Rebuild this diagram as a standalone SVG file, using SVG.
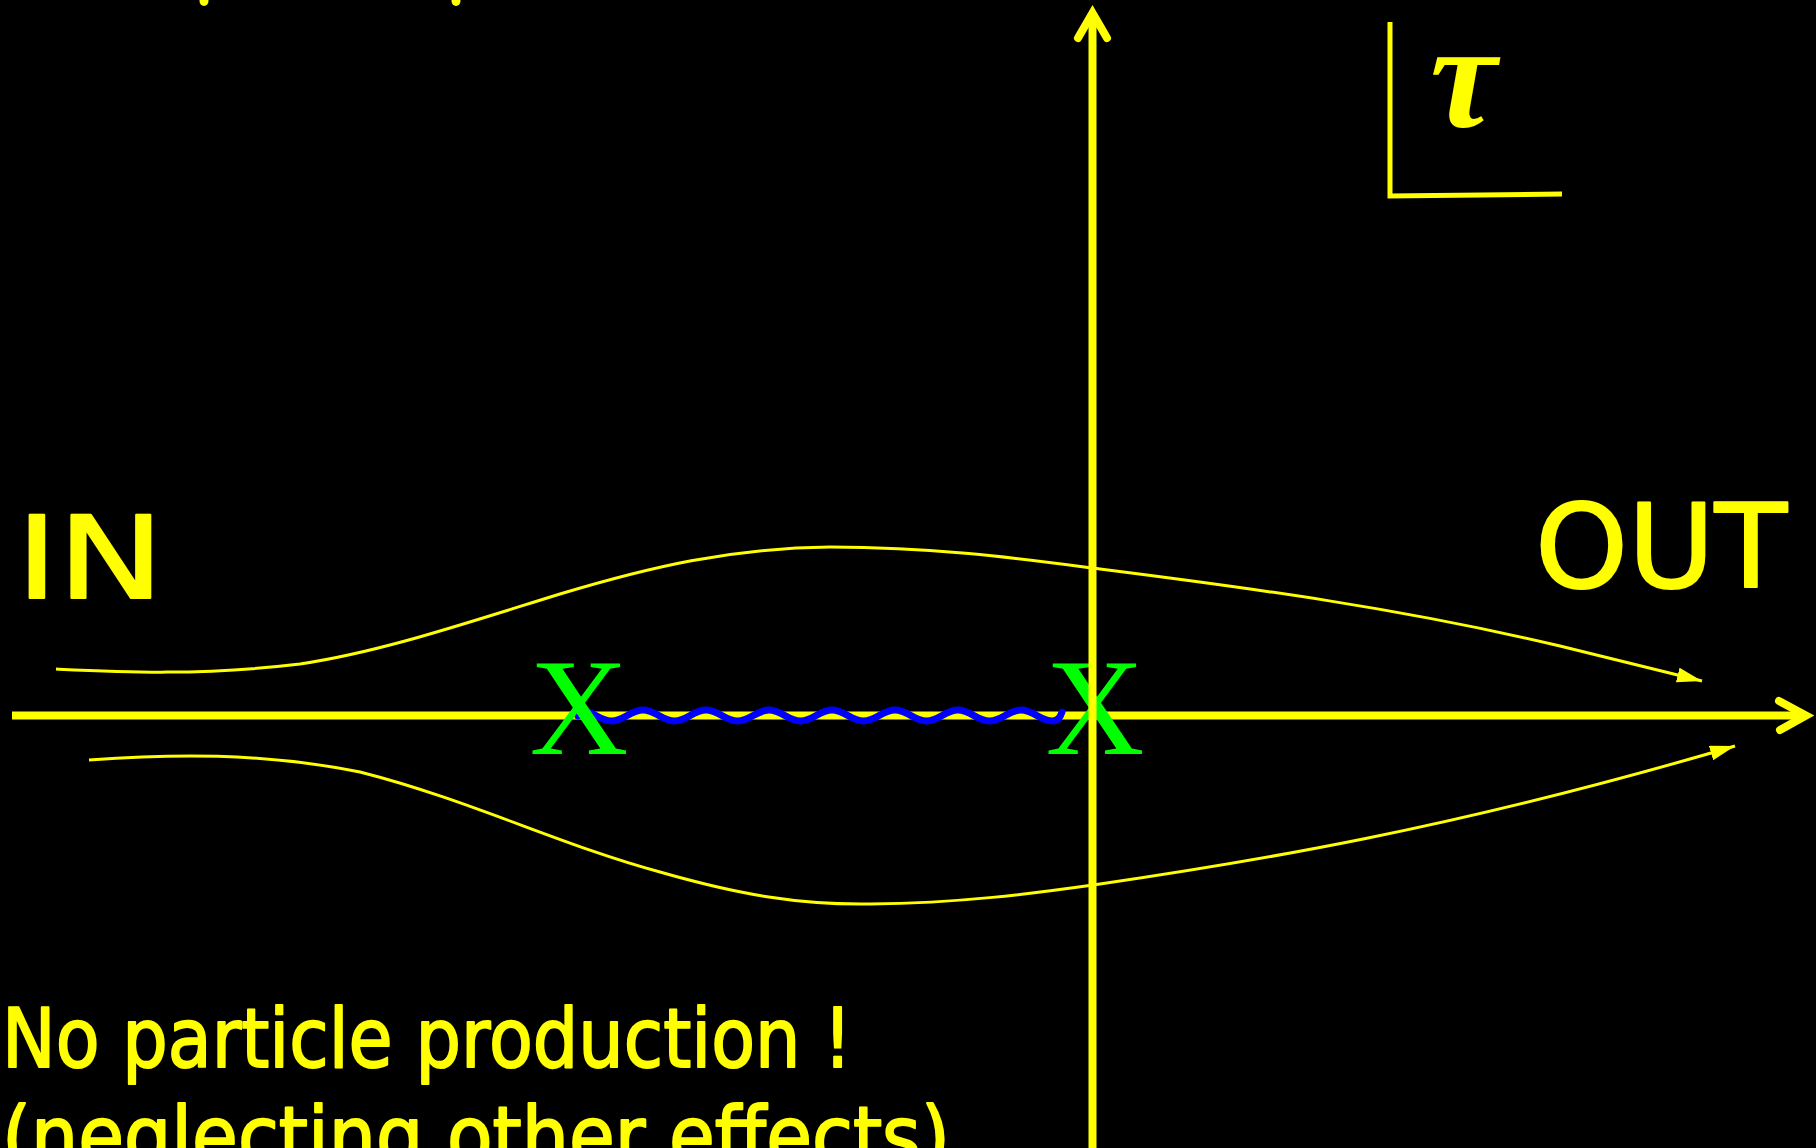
<svg xmlns="http://www.w3.org/2000/svg" width="1816" height="1148" viewBox="0 0 1816 1148">
  <style>
    .axis { fill: none; stroke: #FFFF00; stroke-width: 8; stroke-linecap: round; stroke-linejoin: miter; }
    .thin { fill: none; stroke: #FFFF00; stroke-width: 3; }
    .frame { fill: none; stroke: #FFFF00; stroke-width: 5; }
    .label { fill: #FFFF00; stroke: #FFFF00; stroke-width: 2; stroke-linejoin: round; font-family: "DejaVu Sans", "Open Sans", sans-serif; }
    .cross { fill: #00FF00; font-family: "Liberation Serif", "Times New Roman", serif; font-size: 137px; text-anchor: middle; }
    .wave { fill: none; stroke: #0000FF; stroke-width: 7; stroke-linecap: round; }
  </style>
  <defs>
    <marker id="head" markerUnits="userSpaceOnUse" markerWidth="26" markerHeight="16" refX="25" refY="7.5" orient="auto">
      <path d="M0,0 L25,7.5 L0,15 z" fill="#FFFF00"/>
    </marker>
  </defs>
  <rect x="0" y="0" width="1816" height="1148" fill="#000000"/>

  <g id="top-fragments" fill="#FFFF00">
    <ellipse cx="204" cy="1" rx="4.5" ry="5"/>
    <ellipse cx="456" cy="1" rx="4.5" ry="5"/>
  </g>

  <g id="connectors">
    <line id="x-axis" class="axis" x1="12" y1="715.5" x2="1805" y2="715.5" style="stroke-linecap:butt"/>
    <polyline id="x-axis-head" class="axis" points="1779,701 1806,715.5 1780,730"/>
    <path id="upper-path" class="thin" marker-end="url(#head)" d="M56,669 C120,672 200,676 300,664 C380,652 460,625 560,594 C650,567 730,548 830,547 C940,547 1030,560 1100,569 C1250,588 1400,608 1560,646 L1702,681"/>
    <path id="lower-path" class="thin" marker-end="url(#head)" d="M89,760 C170,754 260,752 360,772 C470,800 560,845 660,872 C740,895 800,905 870,904 C960,903 1030,894 1100,884 C1250,862 1450,830 1735,746"/>
    <path id="propagator" class="wave" d="M578,716 C579,712 579,710 580,710 c12,0 19.5,11 31.5,11 c12,0 19.5,-11 31.5,-11 c12,0 19.5,11 31.5,11 c12,0 19.5,-11 31.5,-11 c12,0 19.5,11 31.5,11 c12,0 19.5,-11 31.5,-11 c12,0 19.5,11 31.5,11 c12,0 19.5,-11 31.5,-11 c12,0 19.5,11 31.5,11 c12,0 19.5,-11 31.5,-11 c12,0 19.5,11 31.5,11 c12,0 19.5,-11 31.5,-11 c12,0 19.5,11 31.5,11 c12,0 19.5,-11 31.5,-11 c12,0 19.5,11 31.5,11 c5,0 8,-4 9.5,-9"/>
  </g>

  <g id="vertex-left"><text class="cross" x="579" y="754">X</text></g>
  <g id="vertex-right"><text class="cross" x="1095" y="754">X</text></g>

  <g id="y-axis-group">
    <line id="y-axis" class="axis" x1="1092.5" y1="14" x2="1092.5" y2="1148" style="stroke-linecap:butt"/>
    <polyline id="y-axis-head" class="axis" points="1078,38 1092.5,13 1107,38"/>
  </g>

  <g id="tau-frame">
    <polyline class="frame" points="1390,22 1390,196 1562,194"/>
    <text x="1430" y="127" fill="#FFFF00" font-family="Liberation Serif, serif" font-style="italic" font-weight="bold" font-size="150">τ</text>
  </g>

  <g id="label-in"><text class="label" x="16" y="598" font-size="114" textLength="148" lengthAdjust="spacingAndGlyphs">IN</text></g>
  <g id="label-out"><text class="label" x="1535" y="587" font-size="116" textLength="252" lengthAdjust="spacingAndGlyphs">OUT</text></g>
  <g id="caption">
    <text class="label" x="2" y="1067" font-size="82" textLength="850" lengthAdjust="spacingAndGlyphs">No particle production !</text>
    <text class="label" x="2" y="1165" font-size="82" textLength="948" lengthAdjust="spacingAndGlyphs">(neglecting other effects)</text>
  </g>
</svg>
